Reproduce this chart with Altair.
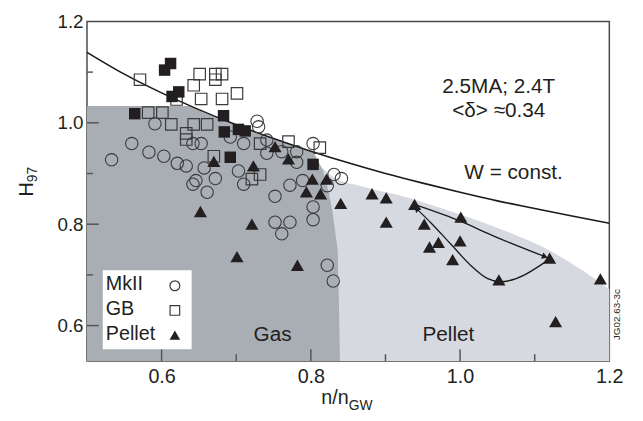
import altair as alt
import pandas as pd

# ---------------- data ----------------
mk2_n = [0.591, 0.560, 0.583, 0.603, 0.621, 0.633, 0.642, 0.653, 0.692, 0.728, 0.730, 0.710,
         0.533, 0.657, 0.672, 0.703, 0.646, 0.642, 0.661, 0.710, 0.741, 0.741, 0.761, 0.781,
         0.803, 0.781, 0.831, 0.841, 0.789, 0.772, 0.822, 0.752, 0.803, 0.803, 0.752, 0.772,
         0.761, 0.822, 0.830]
mk2_h = [0.998, 0.959, 0.942, 0.934, 0.920, 0.915, 0.959, 0.959, 0.972, 1.003, 0.992, 0.959,
         0.927, 0.911, 0.890, 0.905, 0.886, 0.879, 0.863, 0.879, 0.966, 0.940, 0.943, 0.943,
         0.959, 0.922, 0.898, 0.890, 0.886, 0.877, 0.876, 0.855, 0.834, 0.809, 0.804, 0.804,
         0.781, 0.719, 0.688]

gb_n = [0.571, 0.651, 0.672, 0.681, 0.672, 0.643, 0.653, 0.681, 0.701, 0.620, 0.582, 0.601,
        0.613, 0.643, 0.661, 0.633, 0.633, 0.732, 0.670, 0.721, 0.732, 0.770, 0.812]
gb_h = [1.085, 1.096, 1.096, 1.096, 1.085, 1.074, 1.047, 1.047, 1.058, 1.046, 1.020, 1.020,
        0.997, 0.997, 0.997, 0.979, 0.967, 0.959, 0.934, 0.889, 0.898, 0.963, 0.951]

gbf_n = [0.612, 0.604, 0.623, 0.614, 0.564, 0.683, 0.684, 0.703, 0.712, 0.692, 0.803]
gbf_h = [1.117, 1.104, 1.061, 1.052, 1.018, 1.014, 0.982, 0.987, 0.984, 0.932, 0.918]

pel_n = [0.670, 0.723, 0.752, 0.770, 0.802, 0.821, 0.794, 0.813, 0.840, 0.882, 0.901, 0.901,
         0.652, 0.721, 0.701, 0.782, 0.939, 1.001, 0.952, 0.959, 0.971, 1.000, 0.990, 1.120,
         1.052, 1.188, 1.128]
pel_h = [0.924, 0.915, 0.953, 0.929, 0.889, 0.889, 0.864, 0.860, 0.841, 0.860, 0.852, 0.804,
         0.825, 0.800, 0.736, 0.719, 0.839, 0.814, 0.800, 0.755, 0.764, 0.767, 0.730, 0.733,
         0.690, 0.692, 0.608]

# W = const. curve
w_n = [0.50, 0.55, 0.60, 0.65, 0.70, 0.75, 0.80, 0.85, 0.90, 0.95, 1.00, 1.05, 1.10, 1.15, 1.20]
w_h = [1.139, 1.096, 1.059, 1.026, 0.996, 0.969, 0.944, 0.921, 0.900, 0.881, 0.863, 0.846, 0.831, 0.816, 0.802]

# shaded "Gas" region (upper edge)
gas_n = [0.500, 0.638, 0.660, 0.680, 0.700, 0.720, 0.740, 0.760, 0.780, 0.804, 0.816, 0.823, 0.829, 0.836, 0.8375, 0.839]
gas_h = [1.033, 1.033, 1.018, 1.007, 0.995, 0.985, 0.975, 0.964, 0.953, 0.941, 0.907, 0.869, 0.825, 0.748, 0.650, 0.530]

# shaded "Pellet" region (upper edge)
pr_n = [0.800, 0.830, 0.870, 0.913, 1.000, 1.060, 1.120, 1.200]
pr_h = [0.935, 0.893, 0.874, 0.859, 0.819, 0.787, 0.748, 0.672]

# arrowed trajectory
arr_up_n = [0.9415, 1.0011, 1.0452, 1.1136]
arr_up_h = [0.8375, 0.8054, 0.7765, 0.7360]
arr_lo_n = [0.9415, 0.9614, 0.9878, 1.0143, 1.0363, 1.0540, 1.1202]
arr_lo_h = [0.8309, 0.8020, 0.7604, 0.7187, 0.6931, 0.6865, 0.7316]

x_major = [0.6, 0.8, 1.0]
x_minor = [0.7, 0.9, 1.1]
y_major = [0.6, 0.8, 1.0]
y_minor = [0.7, 0.9, 1.1]
tick_labels = [0.6, 0.8, 1.0, 1.2]

# ---------------- chart ----------------
X0, X1, Y0, Y1 = 0.5, 1.2, 0.53, 1.2
W, H = 529, 344
FONT = "Liberation Sans"
TXT = "#231f20"
GAS = "#a9aeb5"
PEL = "#d6d9df"

xs = alt.Scale(domain=[X0, X1], nice=False, zero=False)
ys = alt.Scale(domain=[Y0, Y1], nice=False, zero=False)
xax = alt.Axis(values=tick_labels, format=".1f", ticks=False, domain=False, grid=False,
               labelFontSize=20, labelFont=FONT, labelColor=TXT, labelPadding=6,
               labelFlush=False, title=None)
yax = alt.Axis(values=tick_labels, format=".1f", ticks=False, domain=False, grid=False,
               labelFontSize=19, labelFont=FONT, labelColor=TXT, labelPadding=4,
               labelFlush=False, title=None)


def X():
    return alt.X("n:Q", scale=xs, axis=xax)


def Y():
    return alt.Y("h:Q", scale=ys, axis=yax)


def df(n, h):
    return pd.DataFrame({"n": n, "h": h})


one = pd.DataFrame({"k": [0]})

gas = alt.Chart(df(gas_n, gas_h)).mark_area(color=GAS, interpolate="linear").encode(
    x=X(), y=Y(), y2=alt.datum(Y0))
pel = alt.Chart(df(pr_n, pr_h)).mark_area(color=PEL, interpolate="monotone").encode(
    x=X(), y=Y(), y2=alt.datum(Y0))
wline = alt.Chart(df(w_n, w_h)).mark_line(color="#1a1a1a", strokeWidth=1.6, interpolate="monotone").encode(
    x=X(), y=Y())
a_up = alt.Chart(df(arr_up_n, arr_up_h)).mark_line(color="#1a1a1a", strokeWidth=1.3, interpolate="monotone").encode(
    x=X(), y=Y())
a_lo = alt.Chart(df(arr_lo_n, arr_lo_h)).mark_line(color="#1a1a1a", strokeWidth=1.3, interpolate="monotone").encode(
    x=X(), y=Y())
head1 = alt.Chart(df([arr_up_n[-1]], [arr_up_h[-1]])).mark_point(
    shape="triangle-up", filled=True, color="#1a1a1a", size=45, angle=112, opacity=1).encode(x=X(), y=Y())
head2 = alt.Chart(df([arr_lo_n[0]], [arr_lo_h[0]])).mark_point(
    shape="triangle-up", filled=True, color="#1a1a1a", size=45, angle=315, opacity=1).encode(x=X(), y=Y())

circ = alt.Chart(df(mk2_n, mk2_h)).mark_point(
    shape="circle", filled=False, stroke="#3a3a3a", strokeWidth=1.1, size=158, opacity=1).encode(x=X(), y=Y())
sq = alt.Chart(df(gb_n, gb_h)).mark_point(
    shape="square", filled=False, stroke="#3a3a3a", strokeWidth=1.2, size=135, opacity=1).encode(x=X(), y=Y())
sqf = alt.Chart(df(gbf_n, gbf_h)).mark_point(
    shape="square", filled=True, color="#231f20", size=135, opacity=1).encode(x=X(), y=Y())
tri = alt.Chart(df(pel_n, pel_h)).mark_point(
    shape="triangle-up", filled=True, color="#231f20", size=175, opacity=1).encode(x=X(), y=Y())

TK = "#555555"
xt_maj = alt.Chart(pd.DataFrame({"n": x_major})).mark_rule(color=TK, strokeWidth=1.5).encode(
    x=X(), y=alt.value(H), y2=alt.value(H - 12))
xt_min = alt.Chart(pd.DataFrame({"n": x_minor})).mark_rule(color=TK, strokeWidth=1.5).encode(
    x=X(), y=alt.value(H), y2=alt.value(H - 7))
yt_maj = alt.Chart(pd.DataFrame({"h": y_major})).mark_rule(color=TK, strokeWidth=1.5).encode(
    y=Y(), x=alt.value(0), x2=alt.value(12))
yt_min = alt.Chart(pd.DataFrame({"h": y_minor})).mark_rule(color=TK, strokeWidth=1.5).encode(
    y=Y(), x=alt.value(0), x2=alt.value(6))


def txt(s, x, y, size=21, align="center", baseline="middle", angle=0, font=FONT):
    kw = dict(text=s, fontSize=size, font=font, color=TXT, align=align, baseline=baseline)
    if angle:
        kw["angle"] = angle
    return alt.Chart(one).mark_text(**kw).encode(x=alt.value(x), y=alt.value(y))


legbox = alt.Chart(one).mark_rect(color="white").encode(
    x=alt.value(16), x2=alt.value(106), y=alt.value(252), y2=alt.value(332))
leg_c = alt.Chart(one).mark_point(shape="circle", filled=False, stroke="#3a3a3a", strokeWidth=1.2,
                                  size=100, opacity=1).encode(x=alt.value(89), y=alt.value(267.7))
leg_s = alt.Chart(one).mark_point(shape="square", filled=False, stroke="#3a3a3a", strokeWidth=1.2,
                                  size=95, opacity=1).encode(x=alt.value(89), y=alt.value(292.7))
leg_t = alt.Chart(one).mark_point(shape="triangle-up", filled=True, color="#231f20",
                                  size=115, opacity=1).encode(x=alt.value(89), y=alt.value(317.7))

texts = [
    txt("2.5MA; 2.4T", 417, 66),
    txt("<δ> ≈0.34", 417, 91),
    txt("W = const.", 432, 154),
    txt("Gas", 188, 318),
    txt("Pellet", 366, 318),
    txt("MkII", 19, 266, size=20, align="left"),
    txt("GB", 19, 291, size=20, align="left"),
    txt("Pellet", 19, 317, size=20, align="left"),
    txt("JG02.63-3c", 537, 297, size=10, angle=270),
    # axis titles
    txt("H", -61, 170, size=20, angle=270),
    txt("97", -55, 155, size=14, angle=270),
    txt("n/n", 265, 387, size=20, align="right", baseline="alphabetic"),
    txt("GW", 265, 394, size=14, align="left", baseline="alphabetic"),
]

chart = alt.layer(
    pel, gas, wline, a_up, a_lo, head1, head2, circ, sq, sqf, tri,
    xt_maj, xt_min, yt_maj, yt_min, legbox, leg_c, leg_s, leg_t, *texts
).properties(
    width=W, height=H,
    autosize=alt.AutoSizeParams(type="none"),
    padding={"left": 80, "top": 11, "right": 26, "bottom": 50},
    background="white",
).configure_view(stroke="#4a4a4a", strokeWidth=1.5)

chart.save("out.html", embed_options={"renderer": "svg", "actions": False})
